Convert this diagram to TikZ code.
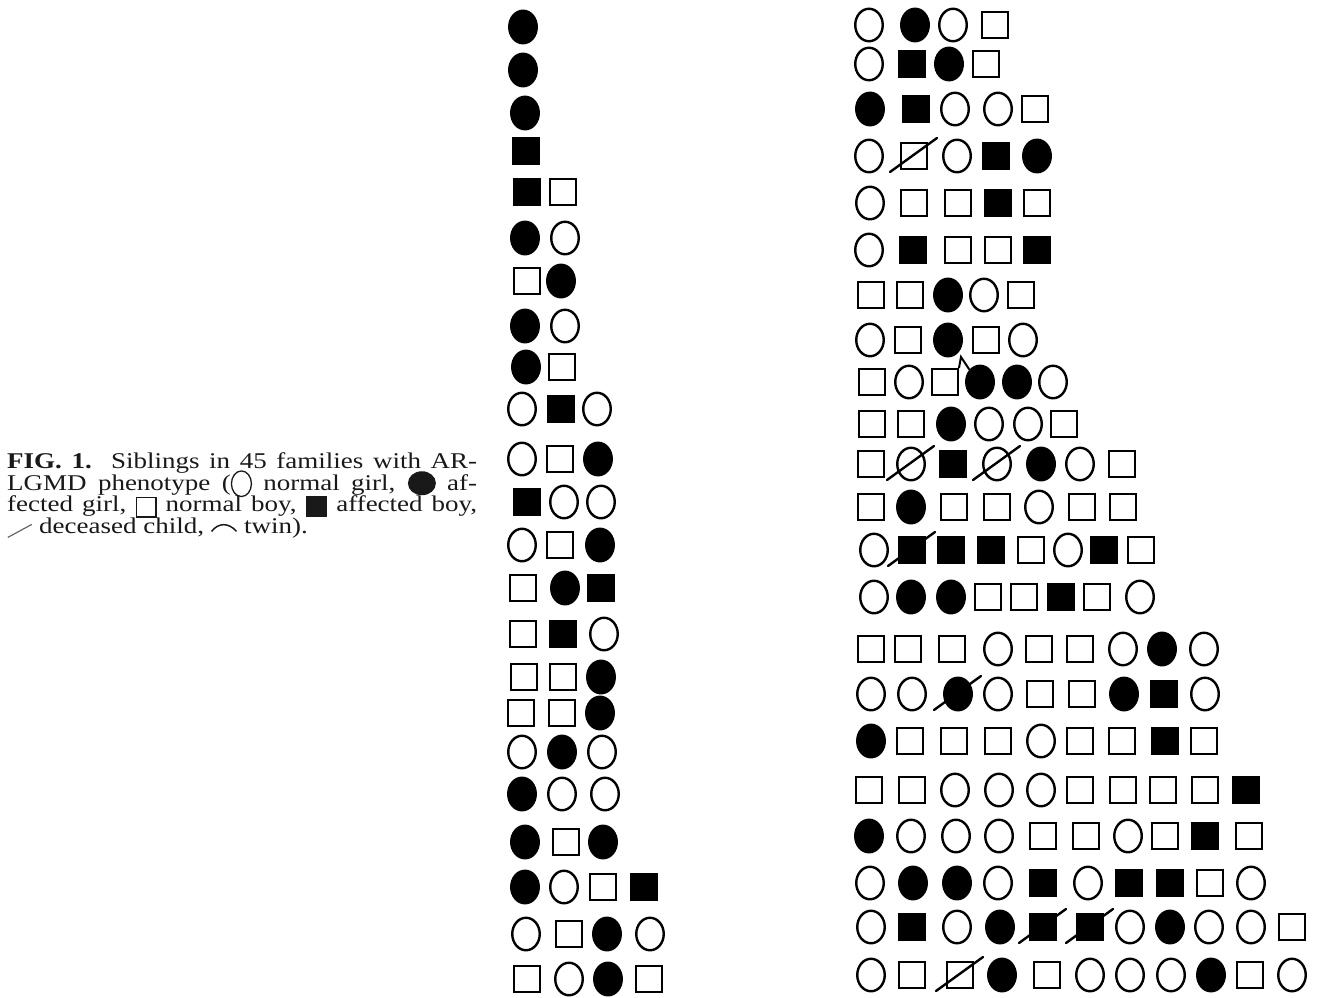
\documentclass[tikz,border=0pt]{standalone}
\usepackage{fontspec}
\setmainfont[FakeStretch=1.2]{Liberation Serif}
\usepackage{tikz}
\usetikzlibrary{shapes.geometric}

% small signs for the caption
\newcommand\capngirl{\smash{\tikz[baseline=-6.5pt]\draw[line width=1.3pt] (0pt,0pt) ellipse [x radius=10pt, y radius=12.8pt];}}
\newcommand\capagirl{\smash{\tikz[baseline=-7pt]\fill (0pt,0pt) ellipse [x radius=14pt, y radius=12pt];}}
\newcommand\capnboy{\smash{\tikz[baseline=5pt]\draw[line width=1.3pt] (0pt,0pt) rectangle (19.5pt,19.5pt);}}
\newcommand\capaboy{\smash{\tikz[baseline=5pt]\fill (0pt,0pt) rectangle (21pt,21pt);}}
\newcommand\capdead{\smash{\tikz[baseline=4pt]\draw[line width=1.2pt, black!60] (0pt,0pt) -- (24pt,13pt);}}
\newcommand\captwin{\smash{\tikz[baseline=-2pt]\draw[line width=1.5pt] (0pt,0pt) .. controls (7pt,9pt) and (17pt,9pt) .. (25pt,0pt);}}
\newcommand\capline[1]{\makebox[470pt][s]{#1}}

\begin{document}
\begin{tikzpicture}[x=1pt, y=-1pt,
  ngirl/.style={ellipse, draw, line width=2.4pt, minimum width=27.5pt,
    minimum height=32.5pt, inner sep=0pt},
  agirl/.style={ngirl, fill=black},
  nboy/.style={rectangle, draw, line width=2.4pt, minimum size=25.5pt, inner sep=0pt},
  aboy/.style={nboy, fill=black},
  dead/.style={line width=2.4pt, line cap=round},
  twinline/.style={line width=2pt},
  caption/.style={anchor=north west, inner sep=0pt, align=left,
    font=\fontsize{22.5pt}{18.7pt}\selectfont, text=black!90}]
\useasboundingbox (0,0) rectangle (1318,998);
\node[caption] (cap) at (7,452.5) {%
  \capline{\textbf{FIG. 1.}\ \ Siblings in 45 families with AR-}\\
  \capline{LGMD phenotype (\capngirl\ normal girl, \capagirl\ af-}\\
  \capline{fected girl, \capnboy\ normal boy, \capaboy\ affected boy,}\\
  \capdead\ deceased child, \captwin\ twin).};
% smaller families
\foreach \r/\y/\row in {
  1/27/{agirl/523}, 2/70/{agirl/523}, 3/113/{agirl/525}, 4/151/{aboy/526},
  5/192/{aboy/527, nboy/563},
  6/238/{agirl/525, ngirl/565},
  7/281/{nboy/527, agirl/561},
  8/326/{agirl/525, ngirl/565},
  9/367/{agirl/526, nboy/562},
  10/409/{ngirl/522, aboy/561, ngirl/597},
  11/459/{ngirl/522, nboy/560, agirl/598},
  12/502/{aboy/527, ngirl/564, ngirl/601},
  13/545/{ngirl/522, nboy/560, agirl/600},
  14/588/{nboy/523, agirl/565, aboy/601},
  15/634/{nboy/523, aboy/563, ngirl/604},
  16/677/{nboy/524, nboy/563, agirl/601},
  17/713/{nboy/521, nboy/562, agirl/600},
  18/752/{ngirl/522, agirl/562, ngirl/602},
  19/794/{agirl/522, ngirl/562, ngirl/605},
  20/842/{agirl/525, nboy/566, agirl/603},
  21/887/{agirl/525, ngirl/564, nboy/603, aboy/644},
  22/934/{ngirl/526, nboy/569, agirl/607, ngirl/650},
  23/979/{nboy/527, ngirl/569, agirl/608, nboy/649}}
  \foreach \t/\x [count=\c] in \row
    \node[\t] (L\r-\c) at (\x,\y) {};
% larger families
\foreach \r/\y/\row in {
  1/25/{ngirl/869, agirl/915, ngirl/953, nboy/995},
  2/64/{ngirl/869, aboy/912, agirl/949, nboy/986},
  3/109/{agirl/870, aboy/916, ngirl/955, ngirl/998, nboy/1035},
  4/156/{ngirl/869, nboy/914, ngirl/957, aboy/996, agirl/1037},
  5/203/{ngirl/870, nboy/914, nboy/958, aboy/998, nboy/1037},
  6/250/{ngirl/869, aboy/913, nboy/958, nboy/998, aboy/1037},
  7/295/{nboy/871, nboy/910, agirl/948, ngirl/984, nboy/1021},
  8/340/{ngirl/870, nboy/908, agirl/948, nboy/986, ngirl/1023},
  9/382/{nboy/872, ngirl/909, nboy/945, agirl/980, agirl/1017, ngirl/1053},
  10/424/{nboy/872, nboy/911, agirl/951, ngirl/989, ngirl/1028, nboy/1064},
  11/464/{nboy/871, ngirl/911, aboy/953, ngirl/997, agirl/1041, ngirl/1080, nboy/1122},
  12/507/{nboy/871, agirl/911, nboy/954, nboy/997, ngirl/1039, nboy/1082, nboy/1123},
  13/550/{ngirl/874, aboy/912, aboy/951, aboy/991, nboy/1031, ngirl/1068, aboy/1104,
    nboy/1141},
  14/597/{ngirl/874, agirl/911, agirl/951, nboy/988, nboy/1024, aboy/1061, nboy/1097,
    ngirl/1140},
  15/649/{nboy/871, nboy/908, nboy/952, ngirl/998, nboy/1039, nboy/1080, ngirl/1123,
    agirl/1162, ngirl/1204},
  16/694/{ngirl/871, ngirl/912, agirl/958, ngirl/998, nboy/1040, nboy/1082, agirl/1124,
    aboy/1164, ngirl/1205},
  17/741/{agirl/871, nboy/910, nboy/954, nboy/998, ngirl/1041, nboy/1080, nboy/1122,
    aboy/1165, nboy/1204},
  18/790/{nboy/869, nboy/912, ngirl/955, ngirl/999, ngirl/1041, nboy/1080, nboy/1123,
    nboy/1163, nboy/1205, aboy/1246},
  19/836/{agirl/869, ngirl/911, ngirl/956, ngirl/999, nboy/1043, nboy/1086, ngirl/1128,
    nboy/1165, aboy/1205, nboy/1249},
  20/883/{ngirl/870, agirl/913, agirl/957, ngirl/998, aboy/1043, ngirl/1088, aboy/1129,
    aboy/1170, nboy/1210, ngirl/1251},
  21/927/{ngirl/871, aboy/912, ngirl/957, agirl/1000, aboy/1043, aboy/1090, ngirl/1130,
    agirl/1170, ngirl/1209, ngirl/1251, nboy/1292},
  22/975/{ngirl/871, nboy/912, nboy/960, agirl/1002, nboy/1047, ngirl/1090, ngirl/1130,
    ngirl/1171, agirl/1211, nboy/1250, ngirl/1292}}
  \foreach \t/\x [count=\c] in \row
    \node[\t] (R\r-\c) at (\x,\y) {};
% deceased
\foreach \n in {R4-2, R11-2, R11-4, R13-2, R16-3, R21-5, R21-6, R22-3}
  \draw[dead] ([shift={(-24,16)}]\n.center) -- ([shift={(23,-18)}]\n.center);
% twins
\coordinate (twin) at (961,357);
\draw[twinline] (R9-3.north east) -- (twin) -- (R9-4.north west);
\end{tikzpicture}
\end{document}
